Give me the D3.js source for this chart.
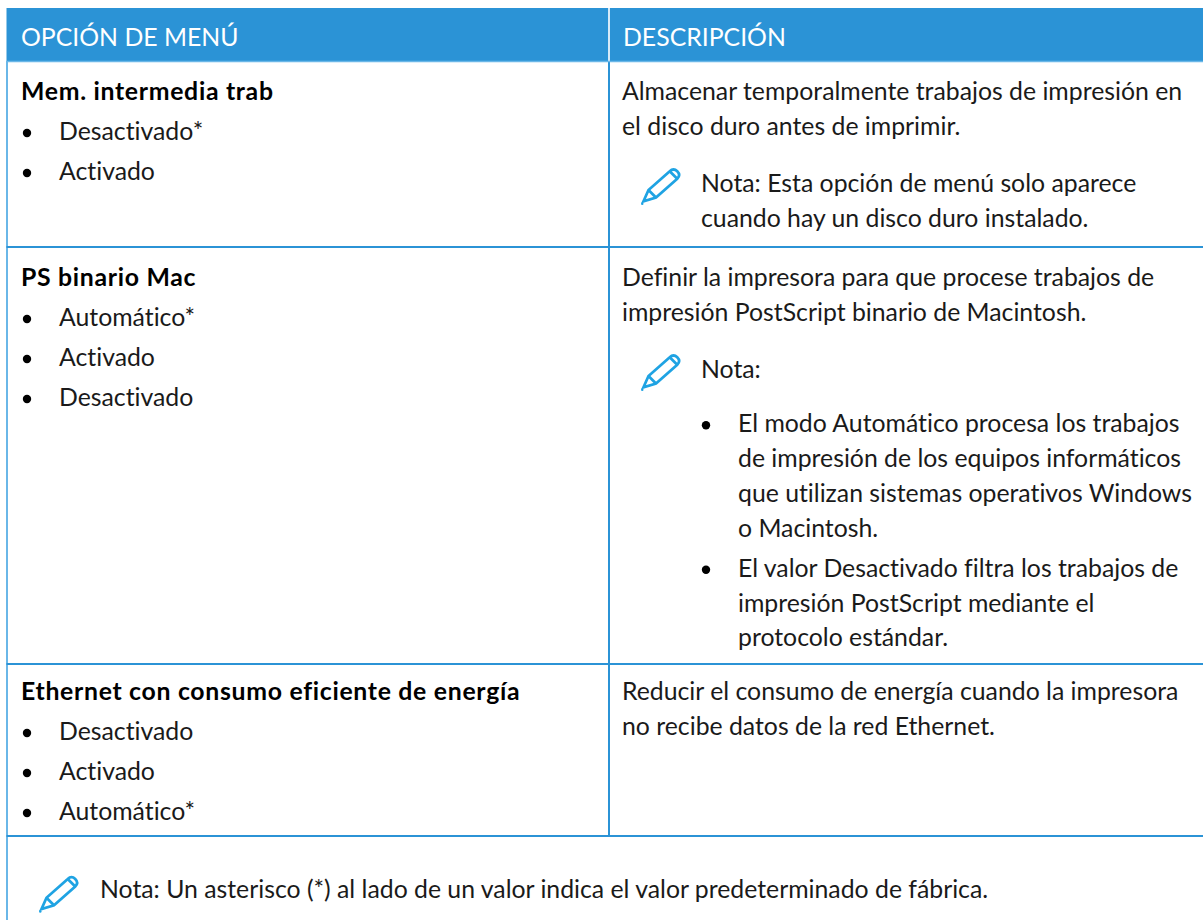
<!DOCTYPE html>
<html>
<head>
<meta charset="utf-8">
<script src="https://cdn.jsdelivr.net/npm/d3@7"></script>
<style>
  html, body { margin: 0; background: #fff; }
  svg { display: block; }
  text { font-family: "Lato", sans-serif; font-size: 24.8px; fill: #1a1a1a; font-variant-ligatures: none; }
  .head { fill: #fff; }
  .bold { font-weight: 700; fill: #000; letter-spacing: 0.7px; }
</style>
</head>
<body>
<div id="table"></div>
<script>
// table text
var headers = ["OPCIÓN DE MENÚ", "DESCRIPCIÓN"];
var menuNames = ["Mem. intermedia trab", "PS binario Mac", "Ethernet con consumo eficiente de energía"];
var menuValues = [
  ["Desactivado*", "Activado"],
  ["Automático*", "Activado", "Desactivado"],
  ["Desactivado", "Activado", "Automático*"]
];
var descriptions = [
  ["Almacenar temporalmente trabajos de impresión en", "el disco duro antes de imprimir."],
  ["Definir la impresora para que procese trabajos de", "impresión PostScript binario de Macintosh."],
  ["Reducir el consumo de energía cuando la impresora", "no recibe datos de la red Ethernet."]
];
var notes = [
  ["Nota: Esta opción de menú solo aparece", "cuando hay un disco duro instalado."],
  ["Nota:"],
  []
];
var noteBullets = [
  [],
  [
    ["El modo Automático procesa los trabajos", "de impresión de los equipos informáticos", "que utilizan sistemas operativos Windows", "o Macintosh."],
    ["El valor Desactivado filtra los trabajos de", "impresión PostScript mediante el", "protocolo estándar."]
  ],
  []
];
var footNote = "Nota: Un asterisco (*) al lado de un valor indica el valor predeterminado de fábrica.";

// layout
var width = 1203, height = 920;
var left = 6.5, colX = 609, headTop = 8, headBottom = 61;
var rowLines = [247, 664, 836];
var rowText = [100, 286, 700];
var lineH = 34.8, valueH = 40;
var blue = "#2b93d6", lightBlue = "#6ab7e8", iconBlue = "#1fa3e3";

var svg = d3.select("#table").append("svg").attr("width", width).attr("height", height);

svg.append("rect").attr("x", left).attr("y", headTop)
  .attr("width", width - left).attr("height", headBottom - headTop).attr("fill", blue);
svg.append("line").attr("x1", colX).attr("x2", colX).attr("y1", headTop).attr("y2", headBottom)
  .attr("stroke", "#d6eaf8").attr("stroke-width", 2);

svg.selectAll(".head").data(headers).enter().append("text")
  .attr("class", "head")
  .attr("x", function(d, i) { return i ? colX + 14 : 21; })
  .attr("y", 46)
  .text(function(d) { return d; });

// borders
svg.append("line").attr("x1", 7).attr("x2", 7).attr("y1", headBottom).attr("y2", height)
  .attr("stroke", lightBlue).attr("stroke-width", 2);
svg.append("line").attr("x1", colX).attr("x2", colX).attr("y1", headBottom).attr("y2", rowLines[2])
  .attr("stroke", blue).attr("stroke-width", 2);
svg.append("line").attr("x1", left).attr("x2", width).attr("y1", headBottom + 0.5).attr("y2", headBottom + 0.5)
  .attr("stroke", lightBlue).attr("stroke-width", 1.5);
svg.selectAll(".rowLine").data(rowLines).enter().append("line")
  .attr("x1", left).attr("x2", width)
  .attr("y1", function(d) { return d; }).attr("y2", function(d) { return d; })
  .attr("stroke", blue).attr("stroke-width", 1.8);

function addText(x, y, str, cls) {
  return svg.append("text").attr("x", x).attr("y", y).attr("class", cls || null).text(str);
}
function addBullet(x, y) {
  svg.append("circle").attr("cx", x).attr("cy", y - 7).attr("r", 4.2).attr("fill", "#000");
}
function addPencil(x, y) {
  var g = svg.append("g").attr("transform", "translate(" + x + "," + y + ") scale(1.25)")
    .attr("fill", "none").attr("stroke", iconBlue).attr("stroke-width", 2.2);
  g.append("path").attr("d", "M2 28 L6 19 L23 4 Q26 1 29 4 Q32 7 29 10 L12 25 Z");
  g.append("path").attr("d", "M6 19 L12 25");
  g.append("path").attr("d", "M23 4 L29 10");
  g.append("circle").attr("cx", 1).attr("cy", 30).attr("r", 1).attr("fill", iconBlue).attr("stroke", "none");
}

var menuX = 21, bulletX = 27, valueX = 59;
var descX = colX + 13, noteX = colX + 92, subBulletX = colX + 97, subX = colX + 129;

menuNames.forEach(function(name, r) {
  addText(menuX, rowText[r], name, "bold");
  menuValues[r].forEach(function(v, i) {
    var y = rowText[r] + valueH * (i + 1);
    addBullet(bulletX, y);
    addText(valueX, y, v);
  });

  var y = rowText[r];
  descriptions[r].forEach(function(line, i) {
    addText(descX, y, line);
    if (i < descriptions[r].length - 1) y += lineH;
  });
  if (notes[r].length) {
    y += 57.5;
    addPencil(colX + 32, y - 26);
    notes[r].forEach(function(line, i) {
      addText(noteX, y, line);
      if (i < notes[r].length - 1) y += lineH;
    });
  }
  noteBullets[r].forEach(function(lines, b) {
    y += b ? 40 : 54;
    addBullet(subBulletX, y);
    lines.forEach(function(line, i) {
      addText(subX, y, line);
      if (i < lines.length - 1) y += lineH;
    });
  });
});

addPencil(39, 874);
addText(100, 898, footNote);
</script>
</body>
</html>
